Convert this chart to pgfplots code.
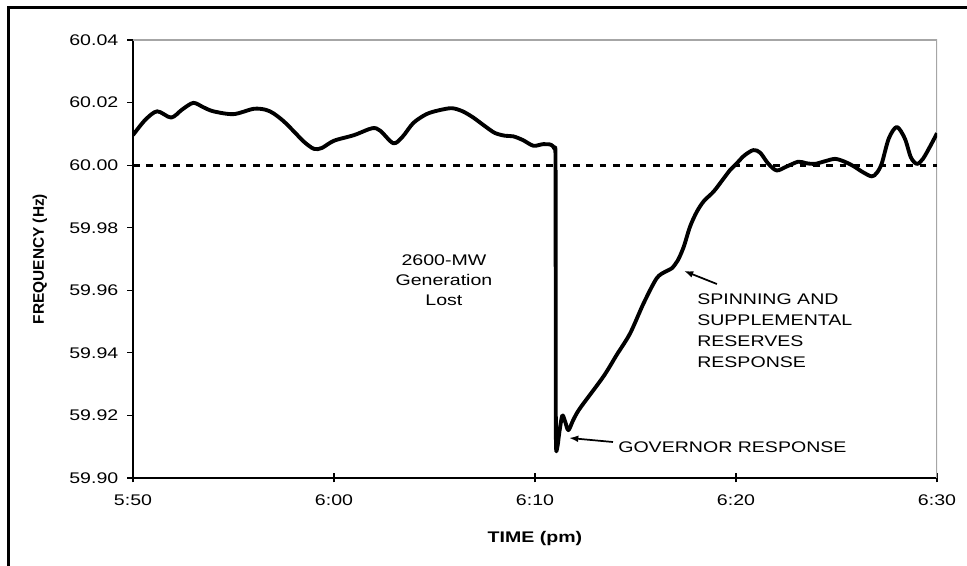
\documentclass[border=0pt]{standalone}
\usepackage{fontspec}
\setmainfont{Liberation Sans}[FakeStretch=1.27]
\newfontfamily\ylfont{Liberation Sans}
\usepackage{pgfplots}
\pgfplotsset{compat=1.18}
\usetikzlibrary{arrows.meta}

\begin{document}
\begin{tikzpicture}[font=\fontsize{11.55}{13.9}\selectfont]
\useasboundingbox (0,0) rectangle (725.25pt,424.5pt);
% outer frame (only left and top edges visible)
\draw[line width=2.25pt] (6pt,-5pt) -- (6pt,418.5pt) -- (730pt,418.5pt);
\begin{axis}[
  at={(99.75pt,66pt)}, anchor=south west,
  scale only axis, width=603pt, height=328.5pt,
  xmin=0, xmax=40, ymin=59.90, ymax=60.04,
  axis x line*=bottom, axis y line*=left,
  axis line style={line width=1.1pt},
  tick style={black, line width=0.9pt},
  tick align=outside,
  major tick length=4.5pt, minor tick length=3pt,
  xtick=\empty,
  minor xtick={1,...,9,11,12,...,19,21,22,...,29,31,32,...,39},
  minor x tick style={yshift=3pt},
  extra x ticks={0,10,20,30,40},
  extra x tick labels={5:50,6:00,6:10,6:20,6:30},
  extra x tick style={tick align=center, major tick length=6.75pt},
  xticklabel style={yshift=-6pt},
  ytick={59.90,59.92,59.94,59.96,59.98,60.00,60.02,60.04},
  yticklabel style={/pgf/number format/fixed, /pgf/number format/fixed zerofill,
    /pgf/number format/precision=2, xshift=-3pt},
  /pgf/number format/assume math mode=true,
  xlabel={\bfseries TIME (pm)},
  xlabel style={at={(axis description cs:0.5,-0.1393)}, anchor=center},
  ylabel={\ylfont\bfseries FREQUENCY (Hz)},
  ylabel style={at={(axis description cs:-0.1157,0.5)}, anchor=center},
]
\draw[color=black!35, line width=1.5pt] (rel axis cs:0,1) -- (rel axis cs:1,1) -- (rel axis cs:1,0);
\addplot[line width=2.3pt, dash pattern=on 5pt off 5pt] coordinates {(0,60.00)(40,60.00)};
\addplot[line width=2.9pt, smooth, tension=0.5, line join=round] coordinates {
(0.0,60.0096)(0.6,60.0144)(1.2,60.0172)(1.9,60.0152)(2.45,60.0178)(3.0,60.0199)
(3.5,60.0185)(4.0,60.0172)(5.0,60.0163)(6.0,60.0180)(6.6,60.0177)(7.0,60.0165)
(7.5,60.0140)(8.0,60.0108)(8.5,60.0075)(9.0,60.0052)(9.4,60.0055)(10.0,60.0078)
(11.0,60.0096)(11.9,60.0118)(12.3,60.0110)(12.95,60.0070)(13.4,60.0090)
(13.95,60.0135)(14.6,60.0163)(15.2,60.0175)(15.86,60.0182)(16.4,60.0172)
(16.93,60.0152)(17.5,60.0125)(18.0,60.0103)(18.5,60.0094)(18.92,60.0092)
(19.4,60.0080)(19.92,60.0062)(20.4,60.0067)(20.8,60.0065)(20.97,60.0052)
(21.02,60.0020)(21.03,59.9600)(21.04,59.9130)(21.1,59.9095)(21.22,59.9150)
(21.36,59.9200)(21.5,59.9180)(21.66,59.9153)(21.9,59.9185)(22.24,59.9223)
(23.4,59.9324)(24.06,59.9393)(24.73,59.9462)(25.4,59.9558)(26.05,59.9638)
(26.5,59.9660)(26.8,59.9670)(27.1,59.9695)(27.4,59.9739)(27.71,59.9803)
(28.05,59.9851)(28.4,59.9885)(28.88,59.9915)(29.3,59.9950)(29.7,59.9984)
(30.0,60.0003)(30.4,60.0030)(30.86,60.0048)(31.2,60.0040)(31.6,60.0005)
(32.02,59.9983)(32.5,59.9995)(33.1,60.0011)(33.5,60.0006)(33.93,60.0004)
(34.4,60.0012)(34.93,60.0020)(35.4,60.0011)(35.84,59.9997)(36.3,59.9978)
(36.75,59.9964)(37.0,59.9975)(37.25,60.0005)(37.6,60.0085)(38.0,60.0122)
(38.4,60.0085)(38.7,60.0025)(39.0,60.0004)(39.3,60.0020)(39.7,60.0065)
(40.0,60.0102)};
\node[align=center, font=\fontsize{11.55}{15}\selectfont] at (axis cs:15.47,59.9633) {2600-MW\\Generation\\Lost};
\node[anchor=west, inner sep=0pt] at (axis cs:24.13,59.9099) {GOVERNOR RESPONSE};
\draw[line width=1.3pt, -{Latex[length=7pt,width=5pt]}] (axis cs:23.88,59.9115) -- (axis cs:21.69,59.9128);
\node[anchor=west, inner sep=0pt, align=left, font=\fontsize{11.55}{15.75}\selectfont] at (axis cs:28.06,59.9471) {SPINNING AND\\SUPPLEMENTAL\\RESERVES\\RESPONSE};
\draw[line width=1.3pt, -{Latex[length=7pt,width=5pt]}] (axis cs:29.05,59.962) -- (axis cs:27.41,59.9662);
\end{axis}
\end{tikzpicture}
\end{document}
